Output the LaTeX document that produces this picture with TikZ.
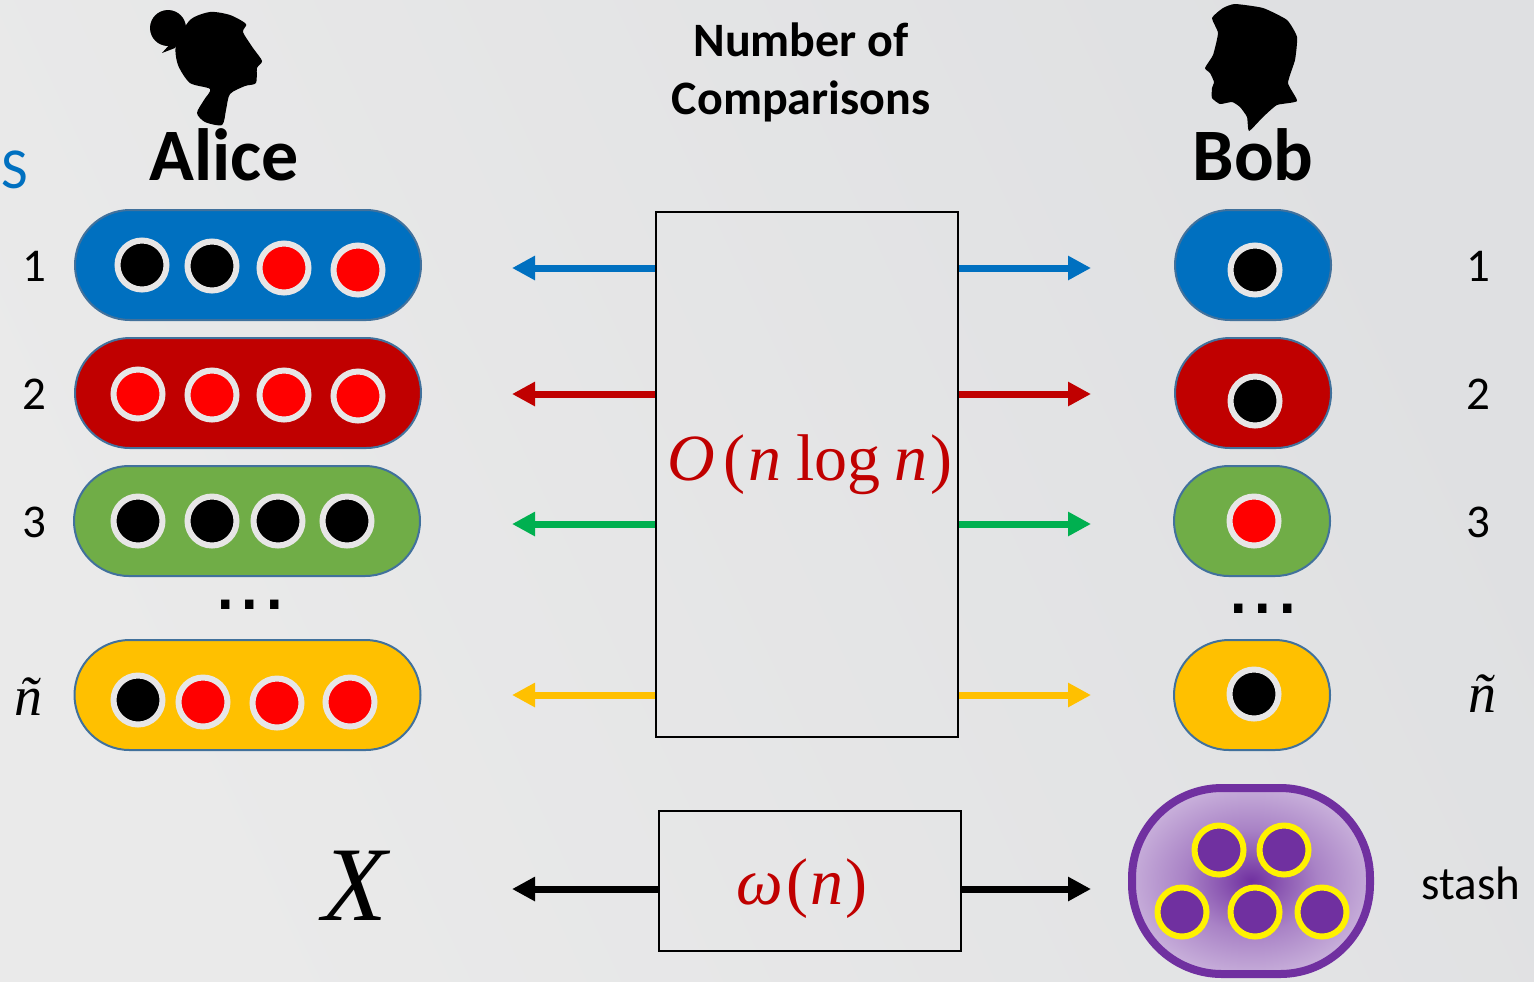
\documentclass[tikz,border=0pt]{standalone}
\usepackage{fontspec}
\setmainfont{Carlito}
\newfontfamily\cambriaish{Liberation Serif}
\newfontfamily\dotface{Liberation Sans}
\usetikzlibrary{arrows.meta,positioning,shapes.misc}
\definecolor{sblue}{HTML}{0070C0}
\definecolor{sred}{HTML}{C00000}
\definecolor{sgreen}{HTML}{70AD47}
\definecolor{agreen}{HTML}{00B050}
\definecolor{syellow}{HTML}{FFC000}
\definecolor{spurple}{HTML}{7030A0}
\definecolor{pillline}{HTML}{41719C}
\definecolor{ringgray}{HTML}{E7E6E6}
\definecolor{backlight}{HTML}{EAEAEA}
\definecolor{backdark}{HTML}{DFE0E2}
\pgfdeclareradialshading{stashfade}{\pgfpoint{0bp}{0bp}}{color(0bp)=(spurple);color(6bp)=(spurple!82!white);color(14bp)=(spurple!60!white);color(24bp)=(spurple!42!white);color(35bp)=(spurple!22!white);color(50bp)=(spurple!22!white)}

\begin{document}
\begin{tikzpicture}[x=.5pt,y=-.5pt,node distance=8pt,
  pill/.style={draw=pillline,line width=1pt,rounded rectangle,inner sep=0pt,minimum height=55pt},
  wide/.style={pill,minimum width=173pt},
  small/.style={pill,minimum width=78pt},
  token/.style={circle,draw=ringgray,line width=3pt,inner sep=0pt,minimum size=24.5pt},
  gem/.style={circle,draw=yellow,fill=spurple,line width=3pt,inner sep=0pt,minimum size=24.5pt},
  box/.style={draw=black,line width=1.1pt,fill=none,inner sep=0pt},
  num/.style={font=\fontsize{23.5}{26}\selectfont},
  title/.style={font=\fontsize{37}{44}\selectfont\bfseries},
  dots/.style={font=\fontsize{44}{50}\dotface},
  link/.style={line width=3.5pt,-{Triangle[length=11.5pt,width=11.5pt]}}]
\useasboundingbox (0,0) rectangle (1534,981);
\shade[left color=backlight,right color=backdark,shading angle=115] (0,0) rectangle (1534,981);
% silhouettes
\fill[black] plot[smooth cycle,tension=.45] coordinates {(197,113)(205,122)(222,125)(226,110)(230,94)(245,86)(256,83)(257,68)(262,61)(253,48)(243,32)(246,24)(230,15)(210,12)(190,20)(176,45)(178,65)(190,83)(210,89)(204,100)};
\fill[black] (168,28) circle (18);
\fill[black] (162,53) -- (175,48) -- (180,38) -- (170,44) -- cycle;
\fill[black] plot[smooth cycle,tension=.3] coordinates {(1235,4)(1263,8)(1287,20)(1297,37)(1295,60)(1288,83)(1297,101)(1277,105)(1263,117)(1249,131)(1247,117)(1240,107)(1232,102)(1220,104)(1212,98)(1212,88)(1214,82)(1210,73)(1205,68)(1213,55)(1218,33)(1212,18)(1223,8)};
% headings
\node[title] (alice) at (224,155) {Alice};
\node[title] (bob) at (1253,155) {Bob};
\node[font=\fontsize{24}{29}\selectfont\bfseries,align=center] (count) at (801,72) {Number of\\Comparisons};
\node[text=sblue,font=\fontsize{29}{30}\selectfont] (setlabel) at (15,170) {S};
% Alice
\node[wide,fill=sblue] (a1) at (248,265) {};
\node[wide,fill=sred,below=of a1] (a2) {};
\node[wide,fill=sgreen,below=of a2,xshift=-.5pt] (a3) {};
\node[wide,fill=syellow] (a4) at (247.5,695) {};
\node[dots] (adots) at (250,605) {...};
% Bob
\node[small,fill=sblue] (b1) at (1253,265) {};
\node[small,fill=sred,below=of b1] (b2) {};
\node[small,fill=sgreen,below=of b2,xshift=-.5pt] (b3) {};
\node[small,fill=syellow] (b4) at (1252,695) {};
\node[dots] (bdots) at (1263,609) {...};
% row numbers
\foreach \r/\y/\t in {1/266/1,2/394/2,3/522/3}{
  \node[num] (la\r) at (34,\y) {\t};
  \node[num] (lb\r) at (1478,\y) {\t};
}
\node[font=\fontsize{28}{30}\cambriaish\itshape] (la4) at (28,697) {ñ};
\node[font=\fontsize{28}{30}\cambriaish\itshape] (lb4) at (1482,694) {ñ};
% tokens
\foreach \x/\y/\c [count=\i] in {142/265/black,212/266/black,284/268/red,358/270/red,
  138/394/red,212/395/red,284/395/red,358/396/red,
  138/521/black,212/521/black,278/521/black,347/521/black,
  138/700/black,203/702/red,277/703/red,350/702/red,
  1255/270/black,1255/401/black,1254/521/red,1254/694/black}
  \node[token,fill=\c] (tok\i) at (\x,\y) {};
% comparison boxes
\node[box,minimum width=151pt,minimum height=262.5pt] (big) at (807,474.5) {};
\node[box,minimum width=151pt,minimum height=70pt] (low) at (810,881) {};
\node[text=sred,font=\fontsize{33}{38}\cambriaish] (bigcost) at (810,465) {\textit{O}\kern4pt(\kern1.5pt\textit{n}\kern7.5pt log\kern7pt\textit{n}\kern1.5pt)};
\node[text=sred,font=\fontsize{33}{38}\cambriaish] (lowcost) at (802,889) {\textit{ω}\kern2pt(\kern1pt\textit{n}\kern1pt)};
% arrows
\foreach \r/\y/\c in {1/268/sblue,2/394/sred,3/524/agreen,4/695/syellow}{
  \coordinate (l\r) at (512,\y);
  \coordinate (r\r) at (1091,\y);
  \draw[link,\c] (big.west |- l\r) -- (l\r);
  \draw[link,\c] (big.east |- r\r) -- (r\r);
}
\coordinate (l5) at (512,889);
\coordinate (r5) at (1091,889);
\draw[link,black] (low.west |- l5) -- (l5);
\draw[link,black] (low.east |- r5) -- (r5);
\node[font=\fontsize{53}{60}\cambriaish\itshape] (xset) at (355,886) {X};
% stash
\node[draw=spurple,line width=4pt,rounded corners=45pt,shading=stashfade,inner sep=0pt,minimum width=119pt,minimum height=93pt] (stash) at (1251,881) {};
\foreach \x/\y [count=\i] in {1219/850,1284/850,1182/912,1255/912,1322/912}
  \node[gem] (gem\i) at (\x,\y) {};
\node[num] (stashlabel) at (1471,883) {stash};
\end{tikzpicture}
\end{document}
